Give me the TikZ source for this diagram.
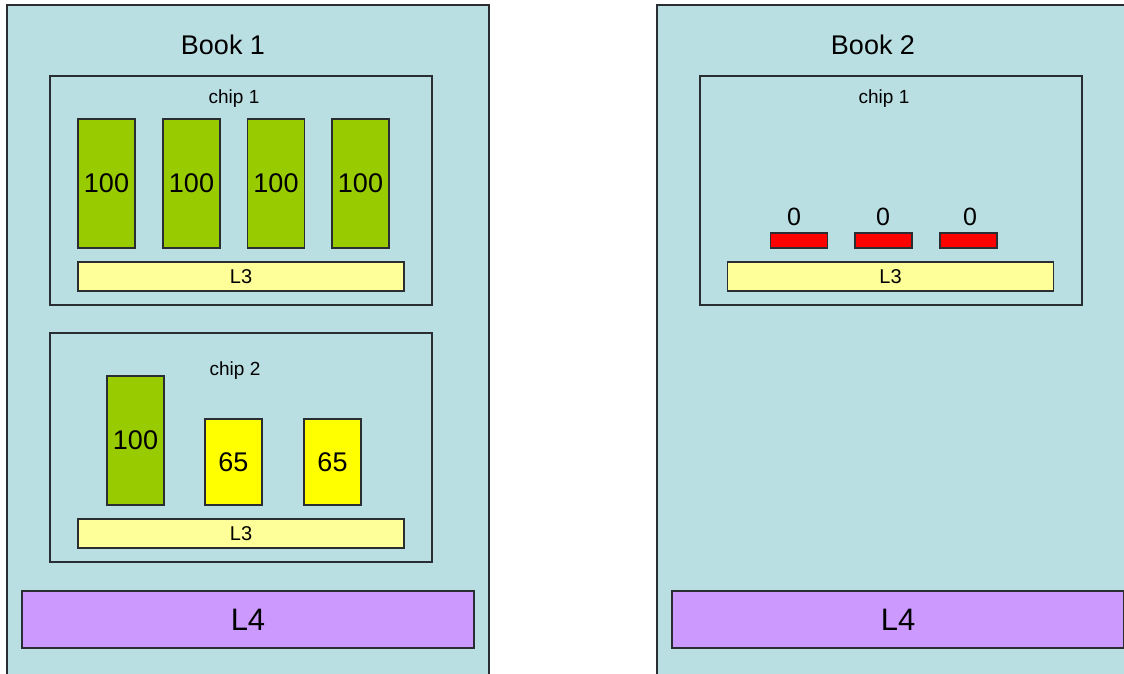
\documentclass[tikz,border=0pt]{standalone}
\usepackage{fontspec}
\setmainfont{Liberation Sans}
\usepackage{tikz}
\usetikzlibrary{positioning}
\definecolor{BookBlue}{HTML}{B9DFE2}
\definecolor{CoreGreen}{HTML}{99CC00}
\definecolor{CoreYellow}{HTML}{FFFF00}
\definecolor{CoreRed}{HTML}{FF0000}
\definecolor{CacheYellow}{HTML}{FFFF99}
\definecolor{CachePurple}{HTML}{CC99FF}
\definecolor{EdgeGray}{HTML}{2A2E33}

\begin{document}
\begin{tikzpicture}[x=1pt, y=-1pt,
          book/.style={rectangle, draw=EdgeGray, line width=1.3pt, fill=BookBlue, minimum width=482pt, minimum height=700pt, inner sep=0pt},
          chip/.style={rectangle, draw=EdgeGray, line width=1.2pt, minimum width=382pt, minimum height=229pt, inner sep=0pt},
          core/.style={rectangle, draw=EdgeGray, line width=1.2pt, fill=CoreGreen, minimum width=57pt, minimum height=129pt, inner sep=0pt, font=\fontsize{27}{29}\selectfont},
          half/.style={core, fill=CoreYellow, minimum height=86pt},
          idle/.style={rectangle, draw=EdgeGray, line width=1.2pt, fill=CoreRed, minimum width=57pt, minimum height=15pt, inner sep=0pt},
          lthree/.style={rectangle, draw=EdgeGray, line width=1.2pt, fill=CacheYellow, minimum width=326pt, minimum height=29pt, inner sep=0pt, font=\fontsize{20}{22}\selectfont},
          lfour/.style={rectangle, draw=EdgeGray, line width=1.2pt, fill=CachePurple, minimum width=452pt, minimum height=57pt, inner sep=0pt, font=\fontsize{31}{33}\selectfont},
          title/.style={inner sep=0pt, font=\fontsize{27}{29}\selectfont},
          tag/.style={inner sep=0pt, font=\fontsize{19}{21}\selectfont}
        ]
          \useasboundingbox[fill=white] (0,0) rectangle (1124,673);
          \clip (0,0) rectangle (1124,673);

          % first book, two chips
          \node[book] (book1) at (248,355) {};
          \node[title] (book1t) at (223,45) {Book 1};

          \node[chip] (b1c1) at (241,190.5) {};
          \node[tag] (b1c1t) at (234,99) {chip 1};
          \node[core] (b1c1a) at (106.5,183.5) {100};
          \node[core] (b1c1b) at (191.5,183.5) {100};
          \node[core] (b1c1c) at (276,183.5) {100};
          \node[core] (b1c1d) at (360.5,183.5) {100};
          \node[lthree] (b1c1l3) at (241,276.5) {L3};

          \node[chip] (b1c2) at (241,447.5) {};
          \node[tag] (b1c2t) at (235,371) {chip 2};
          \node[core] (b1c2a) at (135.5,440.5) {100};
          \node[half] (b1c2b) at (233.5,462) {65};
          \node[half] (b1c2c) at (332.5,462) {65};
          \node[lthree] (b1c2l3) at (241,533.5) {L3};

          \node[lfour] (book1l4) at (248,619.5) {L4};

          % second book, one chip
          \node[book] (book2) at (898,355) {};
          \node[title] (book2t) at (873,45) {Book 2};

          \node[chip] (b2c1) at (891,190.5) {};
          \node[tag] (b2c1t) at (884,99) {chip 1};
          \node[idle] (b2c1a) at (799,240.5) {};
          \node[idle] (b2c1b) at (883.5,240.5) {};
          \node[idle] (b2c1c) at (968.5,240.5) {};
          \node[title, font=\fontsize{25}{27}\selectfont] (b2c1az) at (794,217) {0};
          \node[title, font=\fontsize{25}{27}\selectfont] (b2c1bz) at (883,217) {0};
          \node[title, font=\fontsize{25}{27}\selectfont] (b2c1cz) at (970,217) {0};
          \node[lthree] (b2c1l3) at (890.5,276.5) {L3};

          \node[lfour] (book2l4) at (898,619.5) {L4};
        \end{tikzpicture}
\end{document}
